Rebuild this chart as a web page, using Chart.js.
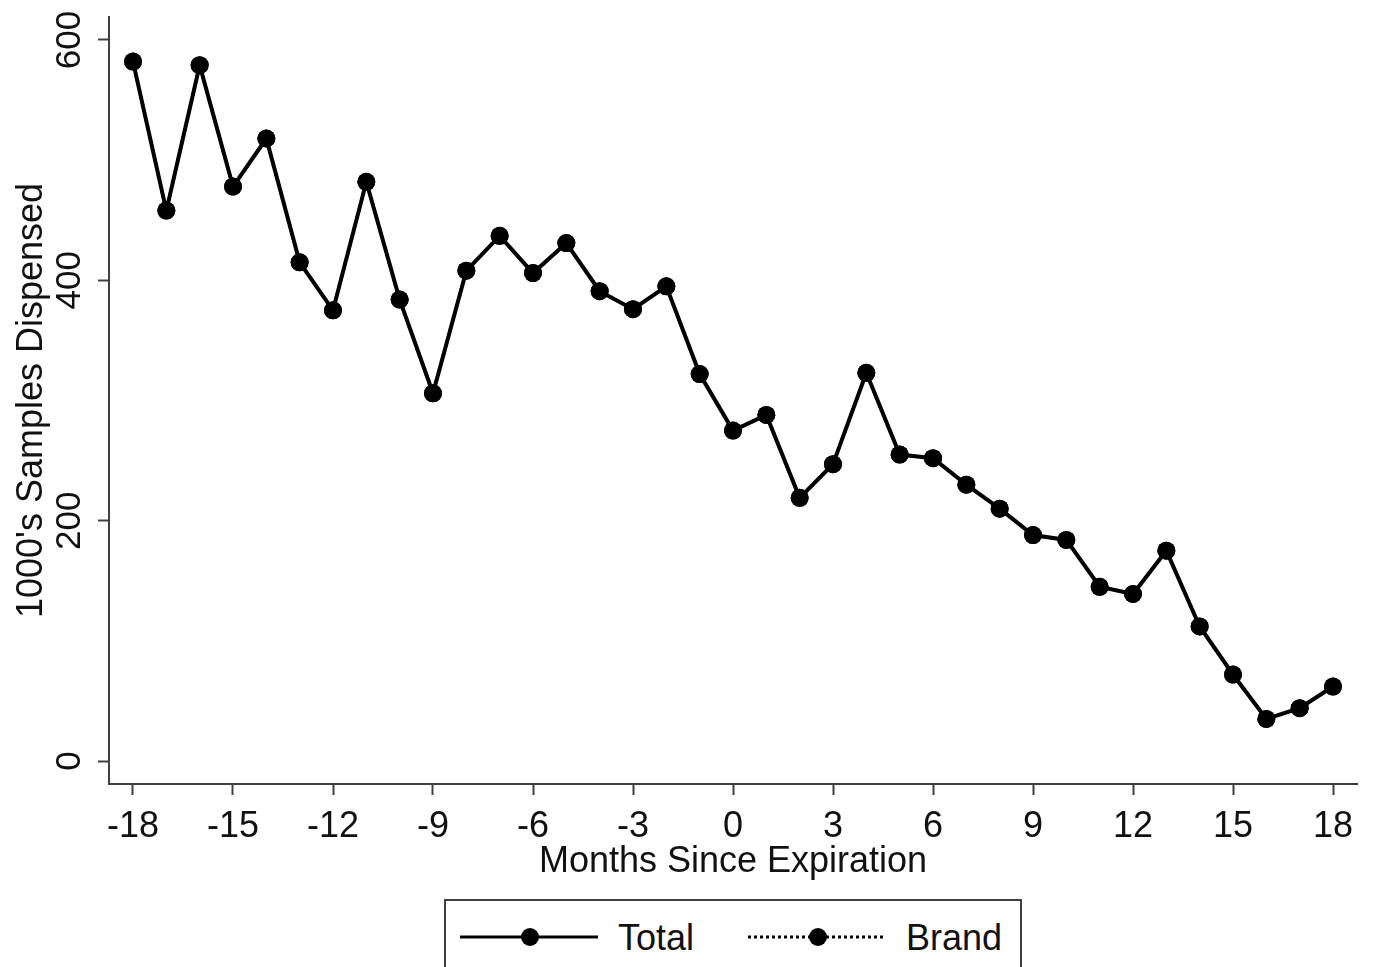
<!DOCTYPE html>
<html>
<head>
<meta charset="utf-8">
<script src="https://cdn.jsdelivr.net/npm/chart.js@4/dist/chart.umd.min.js"></script>
<style>
    html, body { margin: 0; padding: 0; background: #fff; }
    body { width: 1373px; height: 967px; overflow: hidden; position: relative; font-family: "Liberation Sans", Arial, sans-serif; }
    #chart-wrap { position: absolute; left: 0; top: 0; width: 1373px; height: 967px; }
    .legend-box {
        position: absolute; left: 444px; top: 899px; width: 574px; height: 90px;
        border: 2px solid #404040; background: #fff;
    }
    .legend-box svg { position: absolute; left: 0; top: 0; }
</style>
</head>
<body>
<div id="chart-wrap"><canvas id="myChart" width="1373" height="967"></canvas></div>
<div class="legend-box">
    <svg width="574" height="90">
        <line x1="14" y1="36" x2="152" y2="36" stroke="#000" stroke-width="3"/>
        <circle cx="84" cy="36" r="9" fill="#000"/>
        <text x="172" y="49" font-size="36" fill="#111" font-family="Liberation Sans, Arial, sans-serif">Total</text>
        <line x1="302" y1="36" x2="438" y2="36" stroke="#000" stroke-width="3" stroke-dasharray="3 3"/>
        <circle cx="372" cy="36" r="9" fill="#000"/>
        <text x="460" y="49" font-size="36" fill="#111" font-family="Liberation Sans, Arial, sans-serif">Brand</text>
    </svg>
</div>
<script>
// months since expiration (x) and samples dispensed, in 1000's (y)
const months = [-18, -17, -16, -15, -14, -13, -12, -11, -10, -9, -8, -7, -6, -5, -4, -3, -2, -1,
                0, 1, 2, 3, 4, 5, 6, 7, 8, 9, 10, 11, 12, 13, 14, 15, 16, 17, 18];
const totalValues = [582, 458, 579, 478, 518, 415, 375, 482, 384, 306, 408, 437, 406, 431, 391, 376, 395, 322,
                     275, 288, 219, 247, 323, 255, 252, 230, 210, 188, 184, 145, 139, 175, 112, 72, 35, 44, 62];
const brandValues = [582, 458, 579, 478, 518, 415, 375, 482, 384, 306, 408, 437, 406, 431, 391, 376, 395, 322,
                     275, 288, 219, 247, 323, 255, 252, 230, 210, 188, 184, 145, 139, 175, 112, 72, 35, 44, 62];
const xTicks = [-18, -15, -12, -9, -6, -3, 0, 3, 6, 9, 12, 15, 18];
const yTicks = [0, 200, 400, 600];

const FONT = '"Liberation Sans", Arial, sans-serif';
const AXIS = '#404040';

const toPoints = vals => vals.map((v, i) => ({ x: months[i], y: v }));

const ctx = document.getElementById('myChart').getContext('2d');
new Chart(ctx, {
    type: 'line',
    data: {
        datasets: [
            {
                label: 'Total', data: toPoints(totalValues),
                borderColor: '#000', backgroundColor: '#000', borderWidth: 4,
                pointRadius: 9, pointBorderWidth: 0, tension: 0, order: 1
            },
            {
                label: 'Brand', data: toPoints(brandValues),
                borderColor: '#000', backgroundColor: '#000', borderWidth: 3, borderDash: [3, 3],
                pointRadius: 9, pointBorderWidth: 0, tension: 0, order: 2
            }
        ]
    },
    options: {
        responsive: false, animation: false,
        layout: { padding: { top: 17, right: 16, left: 0, bottom: 0 } },
        plugins: { legend: { display: false }, tooltip: { enabled: false } },
        scales: {
            x: {
                type: 'linear', min: -18.72, max: 18.72,
                afterBuildTicks: s => { s.ticks = xTicks.map(v => ({ value: v })); },
                afterFit: s => { s.height = 183; },
                grid: { drawOnChartArea: false, drawTicks: true, tickLength: 11, tickColor: AXIS, tickWidth: 2 },
                border: { display: true, color: AXIS, width: 2 },
                ticks: { color: '#111', padding: 10, maxRotation: 0, font: { family: FONT, size: 36 } },
                title: { display: true, text: 'Months Since Expiration', color: '#111',
                         font: { family: FONT, size: 36, lineHeight: 1.2 }, padding: { top: 0, bottom: 83 } }
            },
            y: {
                type: 'linear', min: -19.1, max: 619.1,
                afterBuildTicks: s => { s.ticks = yTicks.map(v => ({ value: v })); },
                // rotated labels would otherwise push the plot top down
                afterFit: s => { s.width = 109; s.paddingTop = 0; s.paddingBottom = 0; },
                grid: { drawOnChartArea: false, drawTicks: true, tickLength: 11, tickColor: AXIS, tickWidth: 2 },
                border: { display: true, color: AXIS, width: 2 },
                ticks: { color: '#111', padding: -2, minRotation: 90, maxRotation: 90, crossAlign: 'center',
                         font: { family: FONT, size: 35 } },
                title: { display: true, text: "1000's Samples Dispensed", color: '#111',
                         font: { family: FONT, size: 36, lineHeight: 1.2 }, padding: { top: 10, bottom: 0 } }
            }
        }
    }
});
</script>
</body>
</html>
